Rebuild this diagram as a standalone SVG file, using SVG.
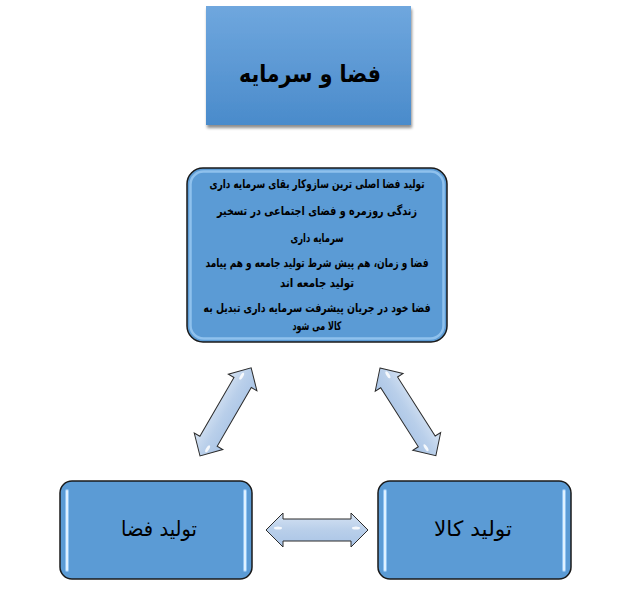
<svg xmlns="http://www.w3.org/2000/svg" width="635" height="599" viewBox="0 0 635 599">
<style>
.t{font-family:"DejaVu Sans","Noto Sans",sans-serif;fill:#000;text-anchor:middle}
.title{font-size:24px;font-weight:bold}
.body{font-size:12px;font-weight:bold}
.lbl{font-size:21px}
.box{fill:#5b9bd5;stroke:#1a1a1a;stroke-width:1.5}
.glow{stroke:#dff1ff;stroke-width:2;stroke-linecap:round}
.glow2{stroke:#a9d4ff;stroke-width:4;stroke-linecap:round;opacity:0.7}
.arrow{fill:url(#ag);stroke:#2b2b2b;stroke-width:1}
.shine{fill:#ffffff;opacity:0.85}
</style>
<defs>
<linearGradient id="tg" x1="0" y1="0" x2="0" y2="1">
<stop offset="0" stop-color="#6fa7de"/>
<stop offset="1" stop-color="#4a8bcb"/>
</linearGradient>
<linearGradient id="ag" x1="0" y1="0" x2="0" y2="1">
<stop offset="0" stop-color="#d6e3f3"/>
<stop offset="0.5" stop-color="#b9cfea"/>
<stop offset="1" stop-color="#a9c4e6"/>
</linearGradient>
<filter id="sh" x="-10%" y="-10%" width="130%" height="130%">
<feGaussianBlur in="SourceAlpha" stdDeviation="1.5"/>
<feOffset dx="1" dy="3" result="o"/>
<feComponentTransfer><feFuncA type="linear" slope="0.45"/></feComponentTransfer>
<feMerge><feMergeNode/><feMergeNode in="SourceGraphic"/></feMerge>
</filter>
</defs>

<g id="title-node">
<rect x="206" y="6" width="205" height="119" fill="url(#tg)" filter="url(#sh)"/>
<text class="t title" x="310" y="82" textLength="142" lengthAdjust="spacingAndGlyphs">فضا و سرمایه</text>
</g>

<g id="center-node">
<rect class="box" x="187" y="168" width="260" height="174" rx="16"/>
<rect x="190.5" y="171.5" width="253" height="167" rx="13" fill="none" stroke="#9ccaf3" stroke-width="2.5" opacity="0.8"/>
<text class="t body" x="317" y="188" textLength="215" lengthAdjust="spacingAndGlyphs">تولید فضا اصلی ترین سازوکار بقای سرمایه داری</text>
<text class="t body" x="317" y="215" textLength="200" lengthAdjust="spacingAndGlyphs">زندگی روزمره و فضای اجتماعی در تسخیر</text>
<text class="t body" x="317" y="242" textLength="53" lengthAdjust="spacingAndGlyphs">سرمایه داری</text>
<text class="t body" x="317" y="267" textLength="223" lengthAdjust="spacingAndGlyphs">فضا و زمان، هم پیش شرط تولید جامعه و هم پیامد</text>
<text class="t body" x="317" y="287" textLength="74" lengthAdjust="spacingAndGlyphs">تولید جامعه اند</text>
<text class="t body" x="317" y="312" textLength="227" lengthAdjust="spacingAndGlyphs">فضا خود در جریان پیشرفت سرمایه داری تبدیل به</text>
<text class="t body" x="317" y="330" textLength="49" lengthAdjust="spacingAndGlyphs">کالا می شود</text>
</g>

<g id="left-node">
<rect class="box" x="60" y="481" width="192" height="98" rx="12"/>
<line class="glow2" x1="67" y1="491" x2="67" y2="570"/>
<line class="glow" x1="67" y1="491" x2="67" y2="570"/>
<line class="glow2" x1="245" y1="491" x2="245" y2="570"/>
<line class="glow" x1="245" y1="491" x2="245" y2="570"/>
<text class="t lbl" x="159" y="536" textLength="76" lengthAdjust="spacingAndGlyphs">تولید فضا</text>
</g>

<g id="right-node">
<rect class="box" x="378" y="481" width="193" height="98" rx="12"/>
<line class="glow2" x1="385" y1="491" x2="385" y2="570"/>
<line class="glow" x1="385" y1="491" x2="385" y2="570"/>
<line class="glow2" x1="564" y1="491" x2="564" y2="570"/>
<line class="glow" x1="564" y1="491" x2="564" y2="570"/>
<text class="t lbl" x="473" y="536" textLength="78" lengthAdjust="spacingAndGlyphs">تولید کالا</text>
</g>

<g id="connectors">
<g transform="translate(266,530)">
<path class="arrow" d="M0,0 L17,-17 L17,-11 L85,-11 L85,-17 L102,0 L85,17 L85,11 L17,11 L17,17 Z"/>
<ellipse class="shine" cx="12" cy="-2" rx="4" ry="1.5"/>
<ellipse class="shine" cx="90" cy="-2" rx="4" ry="1.5"/>
</g>
<g transform="translate(200,456) rotate(-59.9)">
<path class="arrow" d="M0,0 L17,-16.5 L17,-10 L85,-10 L85,-16.5 L102,0 L85,16.5 L85,10 L17,10 L17,16.5 Z"/>
<ellipse class="shine" cx="10" cy="3" rx="4" ry="1.5"/>
<ellipse class="shine" cx="90" cy="-4" rx="4" ry="1.5"/>
</g>
<g transform="translate(380,368) rotate(57.5)">
<path class="arrow" d="M0,0 L17,-16.5 L17,-10 L87,-10 L87,-16.5 L104,0 L87,16.5 L87,10 L17,10 L17,16.5 Z"/>
<ellipse class="shine" cx="10" cy="-3" rx="4" ry="1.5"/>
<ellipse class="shine" cx="92" cy="4" rx="4" ry="1.5"/>
</g>
</g>
</svg>
